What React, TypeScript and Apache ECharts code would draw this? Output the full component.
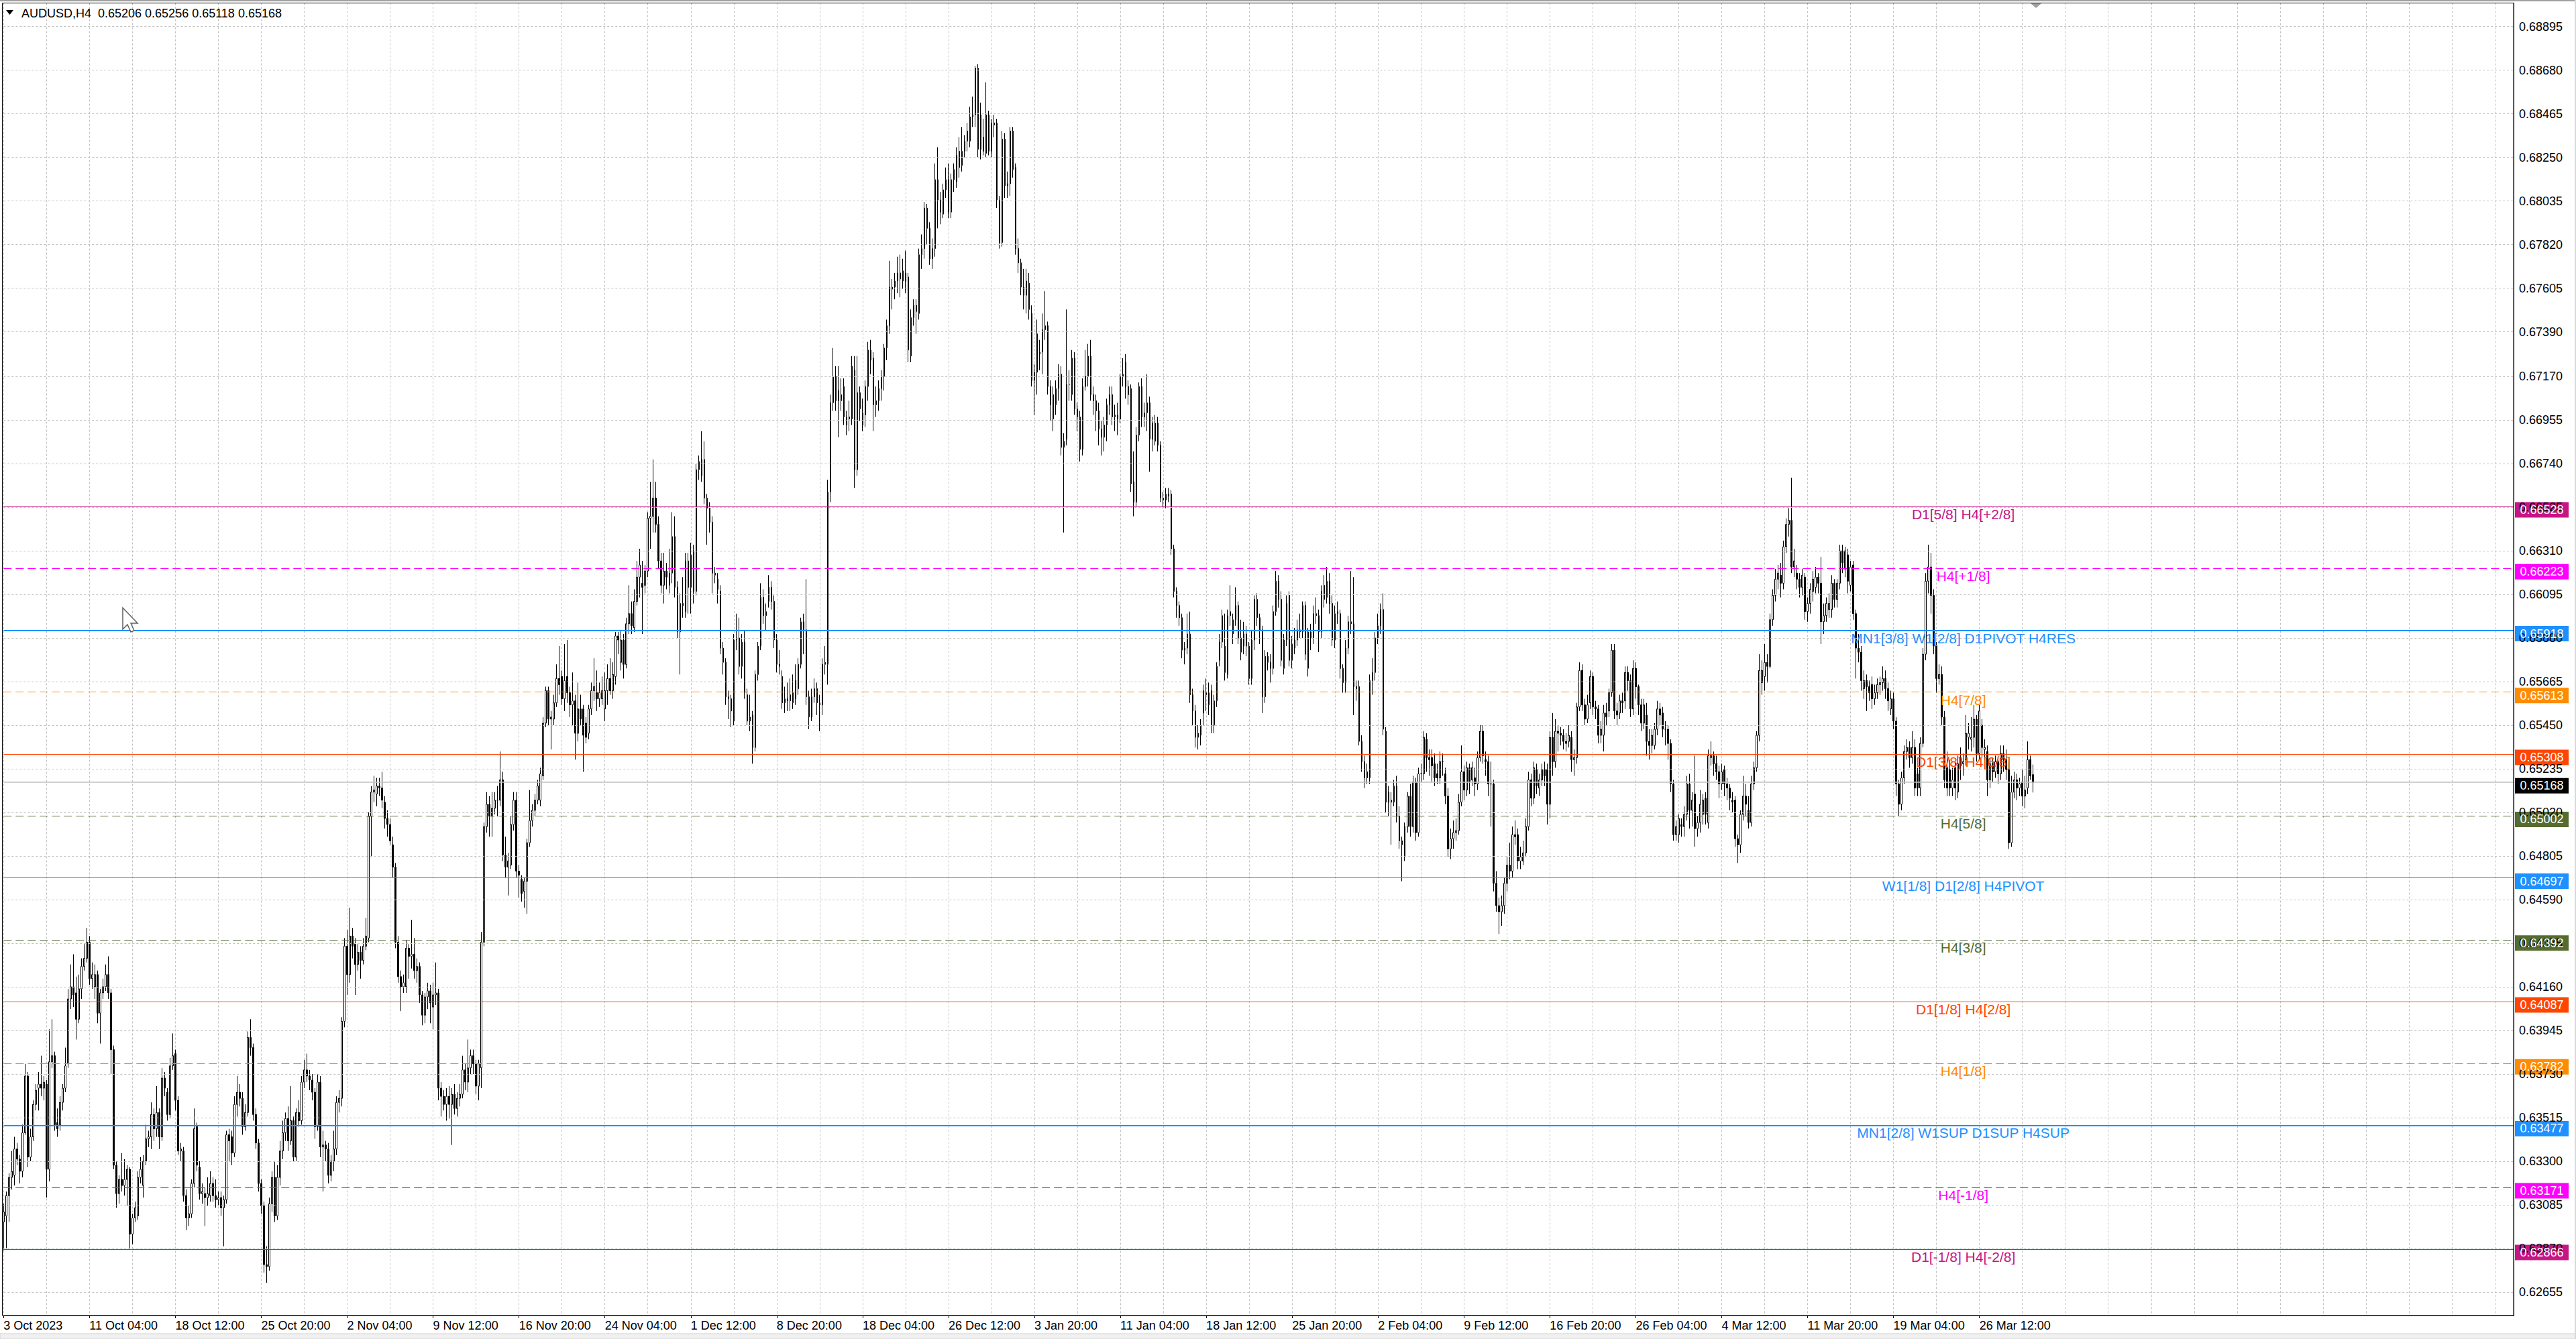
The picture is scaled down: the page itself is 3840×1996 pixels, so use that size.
import React, { useEffect, useRef } from "react";
import * as echarts from "echarts";

// ---------------- DATA ----------------
const SYMBOL_TITLE = "AUDUSD,H4";
const LAST_BAR_OHLC = ["0.65206", "0.65256", "0.65118", "0.65168"];

// Prices are written in pips above 0.6000 : [open, close, low, high]
const PIP_BASE = 0.6;
const PIP = 0.0001;

const candlesOctNov = [
[300,305,286,309],[303,313,287,315],[313,322,300,324],[322,325,316,335],[323,336,318,342],[336,331,328,339],[331,325,319,333],[325,344,322,348],[344,372,343,378],[372,332,327,374],
[332,342,330,346],[342,358,340,360],[358,365,355,368],[366,368,355,374],[368,366,362,382],[366,369,360,372],[368,326,312,370],[326,379,320,395],[379,382,376,400],[382,348,345,384],
[349,346,342,356],[348,359,345,362],[359,366,355,368],[366,377,364,386],[378,410,376,415],[410,416,405,427],[416,412,406,432],[413,400,390,421],[400,415,398,422],[415,426,410,430],
[426,430,424,437],[430,438,428,445],[438,420,417,441],[420,422,415,428],[416,422,410,427],[422,403,398,424],[403,413,388,415],[413,416,410,420],[416,422,414,427],[422,413,410,431],
[413,385,373,415],[385,328,326,387],[328,314,307,330],[314,321,309,323],[321,318,315,334],[318,321,313,331],[321,326,308,328],[326,294,287,327],[294,302,289,304],[302,307,300,310],
[303,322,301,325],[322,326,319,332],[318,330,312,333],[330,341,328,348],[341,342,337,345],[342,353,336,359],[353,346,340,356],[346,354,342,367],[354,342,336,356],[342,371,340,376],
[371,366,362,374],[364,353,350,366],[353,377,351,381],[377,382,375,393],[383,360,355,385],[360,335,333,362],[335,336,330,339],[335,313,310,337],[313,302,296,316],[302,304,298,308],
[304,319,302,321],[319,346,317,356],[347,328,325,349],[327,314,311,330],[314,315,309,319],[314,312,298,317],[312,314,308,322],[313,319,310,325],[319,313,310,322],[313,311,307,321],
[311,312,308,315],[312,307,303,315],[307,311,288,313],[311,343,309,345],[343,340,330,346],[342,334,328,345],[334,358,332,362],[358,364,352,372],[364,361,357,368],[361,347,343,364],
[347,354,345,358],[354,391,352,394],[391,386,382,400],[386,353,350,388],[353,339,336,356],[339,319,315,341],[319,308,304,321],[308,279,275,310],[279,278,270,288],[278,309,276,312],
[309,322,305,325],[322,303,300,330],[303,322,301,328],[322,335,318,340],[335,344,331,350],[344,351,340,354],[351,340,335,357],[340,350,338,367],[350,332,330,352],[332,354,330,356],
[354,350,347,360],[350,369,348,372],[369,375,366,380],[375,372,369,383],[372,370,365,375],[370,364,360,373],[364,347,341,366],[347,369,345,373],[369,337,332,372],[337,338,315,345],
[338,336,330,340],[336,323,319,339],[323,330,320,333],[330,336,325,345],[336,359,333,362],[359,361,354,365],[361,399,357,401],[399,436,396,440],[436,422,412,444],[422,441,418,455],
[441,436,430,445],[437,427,412,440],[427,433,424,437],[433,429,420,436],[429,436,427,440],[436,441,434,450],[440,500,438,502],[500,512,480,515],[512,513,507,520],[511,515,505,519],
[515,514,510,519],[514,508,504,522],[507,499,494,510],[499,496,490,503],[496,488,486,499],[486,475,470,490],[475,438,435,477],[438,421,418,441],[421,416,404,424],[416,418,413,422],
[416,435,413,439],[435,431,420,437],[431,432,425,449],[432,424,420,440],[424,426,418,430],[426,412,408,428],[412,402,397,414],[402,411,398,413],[411,414,405,418],[414,408,398,417],
[406,412,395,418],[412,413,407,428],[413,366,360,415],[366,362,352,369],[362,358,355,365],[358,362,350,366],[362,358,351,367],[358,363,338,366],[363,356,353,368],[356,361,352,364],
[361,363,357,368],[363,375,361,382],[375,369,365,378],[369,376,364,390],[376,382,373,385],[382,378,373,385],[378,367,363,380],[367,378,360,380],[376,438,366,443],[438,495,436,497],
[495,506,492,512],[506,500,490,510],[500,504,490,512],[504,508,501,512],[508,508,500,515],[508,518,505,532],[518,481,478,522],[481,475,470,490],[475,478,461,482]
];

const candlesNovDec = [
[476,496,474,500],[496,508,493,512],[508,473,470,512],[473,471,460,476],[469,462,458,471],[463,468,455,470],[468,487,452,489],[487,498,485,513],[498,503,495,506],[503,508,500,511],
[508,515,506,518],[508,521,505,524],[520,546,518,549],[546,562,544,564],[562,548,545,564],[548,549,533,552],[548,556,545,560],[556,568,554,575],[568,565,560,584],[569,558,555,572],
[558,567,552,585],[569,561,556,587],[561,555,549,564],[555,557,545,571],[557,541,528,560],[541,553,537,566],[553,548,545,560],[553,540,522,555],[546,539,536,549],[541,553,538,555],
[553,562,550,566],[562,564,557,578],[561,558,552,572],[558,561,554,566],[558,562,555,569],[553,562,547,571],[562,568,555,575],[568,562,560,578],[562,570,558,576],[569,589,565,591],
[589,587,580,591],[576,587,572,592],[587,575,568,590],[575,595,573,598],[595,600,590,614],[600,594,590,606],[593,606,591,612],[606,618,604,626],[618,624,608,632],[615,613,590,626],
[614,621,610,624],[621,647,618,650],[647,648,632,665],[648,657,640,676],[657,644,640,665],[644,626,622,648],[626,614,610,630],[614,621,605,630],[621,618,612,625],[614,620,610,632],
[620,638,615,650],[638,613,608,648],[613,591,588,616],[591,605,570,610],[605,604,598,618],[601,626,598,630],[626,613,600,630],[613,629,600,635],[631,611,605,634],[611,671,609,674],
[671,675,666,678],[668,676,665,690],[676,657,654,685],[657,652,634,659],[652,645,640,655],[645,620,610,648],[620,619,615,623],[617,612,605,620],[611,583,580,614],[583,576,570,586],
[576,559,555,578],[559,558,548,562],[558,552,544,560],[547,587,545,590],[587,588,582,600],[588,574,570,598],[574,586,568,590],[586,561,558,592],[560,547,545,563],[547,549,542,560],
[550,534,526,552],[534,570,532,572],[570,584,567,586],[584,608,582,615],[608,599,595,612],[599,601,592,605],[606,613,603,619],[613,606,602,616],[606,587,583,609],[587,575,571,590],
[575,574,570,582],[569,556,553,572],[556,558,551,564],[558,557,552,566],[557,560,552,568],[556,561,553,570],[558,567,555,575],[563,575,560,578],[575,596,573,598],[596,592,580,600],
[592,559,555,617],[559,549,543,562],[549,559,547,563],[559,563,556,568],[563,556,550,566],[556,555,542,560],[555,575,550,578],[575,576,570,584],[575,660,565,666],[660,704,655,708]
];

const candlesDecJan = [
[704,717,700,731],[717,705,700,722],[710,705,687,722],[705,708,700,716],[712,697,693,716],[693,697,688,700],[697,696,690,705],[696,722,693,727],[720,671,662,727],[671,709,668,727],
[709,701,695,712],[693,699,690,706],[698,712,692,715],[712,730,705,734],[725,730,718,735],[726,703,690,729],[703,705,697,712],[705,711,700,715],[711,717,705,720],[717,731,710,733],
[731,742,725,745],[742,761,738,774],[761,760,750,765],[761,764,755,768],[764,768,758,776],[765,768,756,777],[769,764,760,775],[768,764,758,779],[766,730,724,768],[727,746,724,750],
[746,752,742,755],[752,749,738,755],[748,777,745,780],[777,780,770,787],[780,800,775,803],[800,790,782,802],[790,775,772,793],[775,780,770,785],[780,814,776,822],[814,804,790,830],
[804,798,792,808],[797,809,795,812],[809,814,805,820],[814,798,795,822],[798,814,795,817],[814,819,808,822],[813,826,810,830],[820,828,815,835],[821,828,818,840],[828,833,825,836],
[833,838,828,842],[833,845,830,850],[845,846,840,855],[846,869,840,870],[869,829,825,871],[846,829,824,852],[828,835,826,844],[846,827,825,862],[846,828,826,848],[828,842,825,844],
[842,841,835,846],[842,804,800,844],[804,783,780,806],[783,834,781,838],[834,811,805,837],[811,812,805,818],[812,838,806,840],[838,819,815,840],[820,780,777,822],[780,773,768,785],
[773,761,757,775],[761,757,750,770],[757,764,748,770],[763,750,745,768],[748,715,712,752],[715,719,698,723],[719,738,708,745],[728,729,720,735],[729,740,718,748],[740,742,735,759],
[742,712,708,744],[712,703,695,715],[708,696,690,712],[703,711,698,715],[711,718,705,723],[718,682,678,722],[682,685,640,689],[686,713,683,750],[713,713,705,720],[708,726,705,730],
[726,701,698,729],[701,697,690,704],[697,681,675,700],[681,712,678,716],[712,717,710,730],[717,727,712,733],[727,708,705,735],[708,705,698,712],[705,700,690,708],[700,691,683,704],
[691,687,678,695],[687,693,680,697],[693,703,685,706],[703,708,698,712],[708,697,693,712],[697,698,690,703],[698,696,688,704],[696,717,694,718],[717,718,712,726],[724,712,706,728],
[712,708,703,715],[711,664,660,713],[665,655,648,680],[655,688,653,692],[688,712,685,714],[712,697,692,716],[697,699,692,704],[699,704,690,718],[704,686,670,707],[686,694,680,697],
[685,694,683,698],[694,683,680,697],[683,657,655,685],[657,656,652,660],[656,659,652,662],[659,658,655,662],[659,632,629,661],[632,611,608,634],[611,604,598,613],[604,598,594,606],
[598,582,578,600],[582,583,575,586],[583,590,580,600],[590,560,556,601],[560,552,545,563],[552,539,534,555],[539,541,533,545],[540,545,535,548],[551,562,545,565],[560,561,552,568],
[555,561,550,566],[562,545,541,565],[545,557,541,560],[557,574,554,576],[577,586,574,590],[586,599,583,602]
];

const candlesFeb = [
[584,571,567,600],[570,599,568,602],[599,601,594,614],[590,597,585,600],[597,604,594,613],[604,588,585,606],[588,581,577,597],[584,590,580,596],
[590,584,579,594],[584,568,565,586],[568,587,565,592],[587,607,582,609],[607,598,594,610],[598,592,585,600],[592,559,551,594],[559,579,556,582],[579,576,572,581],[573,576,566,580],
[573,601,570,604],[601,616,599,621],[616,607,603,619],[607,577,574,611],[573,587,570,590],[587,605,584,609],[609,577,574,611],[577,585,573,589],[583,587,580,593],
[587,592,584,597],[592,591,588,600],[591,604,588,606],[604,580,577,606],[573,591,569,593],[591,588,582,595],[588,600,585,604],[600,599,595,608],[599,591,581,602],
[591,611,588,614],[607,614,603,619],[608,616,605,623],[616,605,600,620],[605,587,584,609],[587,600,583,604],[600,601,595,606],[600,573,568,602],[573,566,561,575],[566,583,561,587],
[583,596,580,599],[596,595,590,621],[595,564,550,618],[564,563,557,567],[564,537,535,567],[537,527,522,540],[527,519,514,530],[519,522,516,526],[519,567,516,570],[567,571,560,578],
[571,588,567,591],[588,594,585,600],[594,602,590,605],[602,543,540,610],[542,507,502,544],[512,507,500,515],[507,508,486,512],[507,515,505,518],[515,500,497,520],[500,488,484,505],
[488,486,468,490],[480,495,478,497],[495,510,492,512],[510,495,490,516],[495,517,492,520],[517,492,488,519],[492,521,490,524],[521,521,517,526],[521,539,518,542],[538,529,522,541],
[529,528,520,533],[529,525,517,533],[526,519,515,531],[521,519,516,526],[519,527,516,532],[527,527,520,531],[521,510,506,524],[510,484,480,514],[484,489,479,494],[489,492,484,498],
[492,493,488,499],[493,507,491,511],[507,522,505,535],[522,513,508,525],[513,524,510,527],[524,517,511,526],[518,524,515,527],[519,516,510,524],[516,529,513,532],[529,542,527,545],
[542,530,526,545],[528,527,520,532],[527,516,510,530],[516,516,495,527],[516,467,463,518],[467,456,453,473],[456,453,442,460],[453,456,446,461],[456,467,452,470],[467,476,463,480],
[476,473,469,487],[473,491,470,495],[491,490,486,498],[491,478,474,494],[478,480,474,485],[478,482,476,488],[482,495,480,499],[495,518,493,522],[518,509,505,521],[509,524,506,527],[523,515,511,526],
[514,518,510,521],[518,523,515,526],[523,520,515,527],[523,506,496,526],[506,539,499,542],[539,527,520,551],[527,542,524,548],[542,541,532,545],[541,540,535,544],[540,537,533,543],[537,536,532,541],[537,540,534,545],
[539,528,522,542],[528,529,520,533],[529,554,526,556],[554,572,552,576],[572,555,552,575],[555,548,545,558],[548,555,546,560],[556,569,553,572],[569,554,550,571],[554,553,548,557],
[553,540,536,555],[540,543,536,547],[540,551,532,555],[551,549,545,556],[552,561,549,563],[561,582,559,585],[582,552,548,585],[552,550,545,556],[551,557,548,560],[557,556,551,561],[557,571,553,574],[571,567,562,574],
[567,553,549,570],[553,573,550,577],[573,564,558,576]
];

const candlesMar = [
[564,555,550,565],[555,546,542,558],[546,555,543,558],[550,537,530,556],[537,535,528,543],[535,540,531,543],[535,543,533,546],[543,553,540,557],[553,550,545,556],[551,543,539,554],
[543,543,535,547],[543,536,528,545],[536,516,512,538],[516,491,488,518],[491,495,488,498],[491,499,487,501],[496,495,490,499],[495,501,490,505],[501,516,498,520],[516,503,494,521],
[503,508,495,512],[511,494,485,530],[494,497,490,500],[497,506,492,513],[501,508,496,511],[509,501,496,512],[497,530,494,533],[529,530,525,537],[530,526,520,532],[526,522,518,530],
[522,516,509,525],[516,522,513,526],[523,516,510,525],[516,514,508,519],[514,509,503,516],[508,507,502,512],[508,489,485,510],[489,486,477,491],[486,501,482,503],[501,510,498,520],
[510,506,500,516],[503,497,494,510],[497,516,495,520],[516,524,513,527],[524,540,522,542],[540,572,537,580],[566,572,560,577],[569,576,562,585],[576,574,566,580],[574,597,573,600],
[597,609,594,612],[609,617,606,622],[617,620,612,624],[619,615,608,625],[615,633,612,636],[633,644,630,647],[644,646,638,652],[646,623,620,667],[623,626,618,632],[620,617,612,624],
[617,613,608,620],[613,619,609,622],[618,601,597,620],[601,605,596,608],[605,612,600,615],[611,617,606,621],[613,618,610,623],[618,615,610,620],[615,596,585,628],[596,599,590,605],
[599,605,596,608],[602,605,598,610],[602,615,598,619],[615,607,603,617],[607,615,603,617],[615,631,612,634],[631,625,620,634],[622,631,618,633],[629,616,610,632],[614,623,611,626],
[624,600,597,626],[600,583,568,602],[583,581,576,590],[581,567,562,584],[563,567,558,572],[567,564,552,570],[564,561,557,567],[565,558,553,569],[558,561,555,565],[561,565,558,568],
[565,566,560,569],[566,568,562,574],[568,563,558,572],[563,557,552,566],[553,558,550,562],[558,547,543,561],[547,516,510,549],[516,506,500,518],[506,519,503,522],[519,532,516,535],
[532,534,528,538],[534,529,524,537],[529,534,526,542],[534,514,510,538],[521,514,510,524],[514,536,510,539],[536,580,534,583],[580,616,577,620],[616,623,610,634],[623,609,600,630],
[609,584,580,612],[584,568,561,586],[568,570,565,575],[570,549,545,574],[549,518,514,552],[524,514,510,532],[523,514,510,528],[514,518,510,524],[524,514,508,527],[512,526,509,530],
[529,525,518,534],[526,527,520,531],[528,541,525,550],[539,541,533,546],[538,539,532,549],[539,548,534,555],[548,531,527,550],[531,552,528,555],[545,534,529,548],[533,534,528,538],
[532,518,510,535],[518,526,514,529],[526,522,517,529],[522,527,519,530],[527,521,516,530],[521,531,518,535],[531,528,522,535],[528,523,518,533],
[523,487,484,527],[487,512,485,520],[512,518,509,522],[518,514,508,521],[514,516,510,519],[517,510,505,523],[510,513,504,520],[514,528,511,537],[528,520,518,530],[520.6,516.8,511.8,525.6]
];

const xLabelTexts = [
  "3 Oct 2023", "11 Oct 04:00", "18 Oct 12:00", "25 Oct 20:00", "2 Nov 04:00", "9 Nov 12:00",
  "16 Nov 20:00", "24 Nov 04:00", "1 Dec 12:00", "8 Dec 20:00", "18 Dec 04:00", "26 Dec 12:00",
  "3 Jan 20:00", "11 Jan 04:00", "18 Jan 12:00", "25 Jan 20:00", "2 Feb 04:00", "9 Feb 12:00",
  "16 Feb 20:00", "26 Feb 04:00", "4 Mar 12:00", "11 Mar 20:00", "19 Mar 04:00", "26 Mar 12:00",
];
const xLabelBars = [
  0, 32, 64, 96, 128, 160, 192, 224, 256, 288, 320, 352,
  384, 416, 448, 480, 512, 544, 576, 608, 640, 672, 704, 736,
];

const yTickValues = [
  0.68895, 0.6868, 0.68465, 0.6825, 0.68035, 0.6782, 0.67605, 0.6739, 0.6717, 0.66955,
  0.6674, 0.66525, 0.6631, 0.66095, 0.6588, 0.65665, 0.6545, 0.65235, 0.6502, 0.64805,
  0.6459, 0.64375, 0.6416, 0.63945, 0.6373, 0.63515, 0.633, 0.63085, 0.6287, 0.62655,
];

const levelValues = [
  0.66528, 0.66223, 0.65918, 0.65613, 0.65308, 0.65002, 0.64697,
  0.64392, 0.64087, 0.63782, 0.63477, 0.63171, 0.62866,
];
const levelNames = [
  "D1[5/8] H4[+2/8]", "H4[+1/8]", "MN1[3/8] W1[2/8] D1PIVOT H4RES", "H4[7/8]",
  "D1[3/8] H4[6/8]", "H4[5/8]", "W1[1/8] D1[2/8] H4PIVOT", "H4[3/8]", "D1[1/8] H4[2/8]",
  "H4[1/8]", "MN1[2/8] W1SUP D1SUP H4SUP", "H4[-1/8]", "D1[-1/8] H4[-2/8]",
];
const bidPrice = 0.65168;

// ---------------- STYLE / LAYOUT ----------------
const levelStyles = [
  { color: "#C71585", dash: "solid", width: 1 },
  { color: "#FF00FF", dash: [12, 6], width: 1 },
  { color: "#1E90FF", dash: "solid", width: 2 },
  { color: "#FF8C00", dash: [12, 6], width: 1 },
  { color: "#FF4500", dash: "solid", width: 1 },
  { color: "#556B2F", dash: [12, 6], width: 1 },
  { color: "#1E90FF", dash: "solid", width: 1 },
  { color: "#556B2F", dash: [12, 6], width: 1 },
  { color: "#FF4500", dash: "solid", width: 1 },
  { color: "#FF8C00", dash: [12, 6], width: 1 },
  { color: "#1E90FF", dash: "solid", width: 2 },
  { color: "#FF00FF", dash: [12, 6], width: 1 },
  { color: "#C71585", dash: "solid", width: 1 },
];

const W = 3840;
const H = 1996;
const GRID_LEFT = 5.3;
const GRID_RIGHT_X = 3747;
const GRID_TOP = 4.5;
const GRID_BOTTOM_Y = 1961;
const SLOT_COUNT = 936; // bars that fit the visible width
const Y_MIN = 0.625388;
const Y_MAX = 0.690111;
const LEVEL_TEXT_BAR = 730;
const FONT = "'Liberation Sans', Arial, sans-serif";
const GRID_COLOR = "#C0C0C0";

export default function App() {
  const ref = useRef<HTMLDivElement>(null);

  useEffect(() => {
    if (!ref.current) return;
    const chart = echarts.init(ref.current, undefined, { renderer: "svg", width: W, height: H });

    const rows = [...candlesOctNov, ...candlesNovDec, ...candlesDecJan, ...candlesFeb, ...candlesMar];
    const toPrice = (v: number) => +(PIP_BASE + v * PIP).toFixed(5);
    const candleData = rows.map((r) => {
      const o = toPrice(r[0]);
      const c = toPrice(r[1]);
      const l = Math.min(toPrice(r[2]), o, c);
      const h = Math.max(toPrice(r[3]), o, c);
      return [o, c, l, h];
    });

    const labelMap = new Map<number, string>();
    xLabelBars.forEach((b, i) => labelMap.set(b, xLabelTexts[i]));
    const slots = Array.from({ length: SLOT_COUNT }, (_, i) => labelMap.get(i) ?? "#" + i);
    const isLabel = (i: number) => labelMap.has(i);

    const option: any = {
      animation: false,
      backgroundColor: "#FFFFFF",
      grid: {
        left: GRID_LEFT,
        right: W - GRID_RIGHT_X,
        top: GRID_TOP,
        bottom: H - GRID_BOTTOM_Y,
        containLabel: false,
      },
      xAxis: {
        type: "category",
        data: slots,
        boundaryGap: false,
        axisLine: { show: true, lineStyle: { color: "#000", width: 1 } },
        axisTick: { show: true, interval: (i: number) => isLabel(i), length: 4, lineStyle: { color: "#000" } },
        axisLabel: {
          interval: (i: number) => isLabel(i),
          formatter: (v: string) => (v.startsWith("#") ? "" : v),
          align: "left",
          margin: 6,
          fontSize: 18,
          fontFamily: FONT,
          color: "#000",
        },
        splitLine: {
          show: true,
          interval: (i: number) => i % 16 === 0,
          lineStyle: { color: GRID_COLOR, type: [3, 3], width: 1 },
        },
      },
      yAxis: {
        type: "value",
        position: "right",
        min: Y_MIN,
        max: Y_MAX,
        axisLine: { show: true, lineStyle: { color: "#000", width: 1 } },
        axisTick: { show: false },
        axisLabel: { show: false },
        splitLine: { show: false },
      },
      series: [
        {
          name: "grid",
          type: "line",
          data: [],
          silent: true,
          z: 1,
          markLine: {
            silent: true,
            symbol: ["none", "none"],
            animation: false,
            precision: 5,
            lineStyle: { color: GRID_COLOR, type: [3, 3], width: 1 },
            label: {
              show: true,
              position: "end",
              distance: 8,
              formatter: (p: any) => Number(p.value).toFixed(5),
              color: "#000",
              fontSize: 18,
              fontFamily: FONT,
            },
            emphasis: { disabled: true },
            data: yTickValues.map((v) => ({ yAxis: v })),
          },
        },
        {
          name: "levels",
          type: "line",
          data: [],
          silent: true,
          z: 2,
          markLine: {
            silent: true,
            symbol: ["none", "none"],
            animation: false,
            precision: 5,
            label: { show: false },
            emphasis: { disabled: true },
            data: [
              ...levelValues.map((v, i) => ({
                yAxis: v,
                lineStyle: { color: levelStyles[i].color, type: levelStyles[i].dash, width: levelStyles[i].width },
              })),
              { yAxis: bidPrice, lineStyle: { color: "#C0C0C0", type: "solid", width: 1.5 } },
            ],
          },
        },
        {
          name: "AUDUSD",
          type: "candlestick",
          data: candleData,
          large: false,
          progressive: 0,
          barWidth: 2,
          z: 3,
          itemStyle: {
            color: "#FFFFFF",
            color0: "#000000",
            borderColor: "#000000",
            borderColor0: "#000000",
            borderWidth: 1,
          },
        },
        {
          name: "levelText",
          type: "scatter",
          data: [],
          silent: true,
          z: 5,
          markPoint: {
            silent: true,
            animation: false,
            symbol: "circle",
            symbolSize: 0,
            label: { show: true, position: "bottom", distance: 1, fontSize: 21, fontFamily: FONT },
            data: levelValues.map((v, i) => ({
              coord: [LEVEL_TEXT_BAR, v],
              value: levelNames[i],
              label: { formatter: levelNames[i], color: levelStyles[i].color },
            })),
          },
        },
        {
          name: "levelBoxes",
          type: "scatter",
          data: [],
          silent: true,
          z: 6,
          markPoint: {
            silent: true,
            animation: false,
            symbol: "rect",
            symbolSize: [80, 23],
            symbolOffset: [42, 5],
            label: { show: true, position: "inside", color: "#FFFFFF", fontSize: 18, fontFamily: FONT },
            data: [
              ...levelValues.map((v, i) => ({
                coord: [SLOT_COUNT - 1, v],
                value: v,
                itemStyle: { color: levelStyles[i].color },
                label: { formatter: v.toFixed(5) },
              })),
              {
                coord: [SLOT_COUNT - 1, bidPrice],
                value: bidPrice,
                itemStyle: { color: "#000000" },
                label: { formatter: bidPrice.toFixed(5) },
              },
            ],
          },
        },
      ],
      graphic: [
        { type: "rect", z: 0, silent: true, shape: { x: 0, y: 0, width: W, height: 2 }, style: { fill: "#A0A0A0" } },
        { type: "rect", z: 0, silent: true, shape: { x: 0, y: 1988, width: W, height: 8 }, style: { fill: "#F0F0F0", stroke: "#D0D0D0", lineWidth: 1 } },
        { type: "rect", z: 0, silent: true, shape: { x: W - 2, y: 0, width: 2, height: H }, style: { fill: "#D8D8D8" } },
        {
          type: "rect",
          z: 50,
          silent: true,
          shape: { x: 3.5, y: GRID_TOP, width: GRID_RIGHT_X - 3.5, height: GRID_BOTTOM_Y - GRID_TOP },
          style: { fill: "none", stroke: "#000", lineWidth: 1 },
        },
        {
          type: "polygon",
          z: 50,
          silent: true,
          shape: { points: [[9, 15], [20, 15], [14.5, 22]] },
          style: { fill: "#000" },
        },
        {
          type: "text",
          z: 50,
          silent: true,
          x: 32,
          y: 20,
          style: {
            text: SYMBOL_TITLE + "  " + LAST_BAR_OHLC.join(" "),
            fontSize: 18,
            fontFamily: FONT,
            fill: "#000",
            verticalAlign: "middle",
            align: "left",
          },
        },
        {
          type: "polygon",
          z: 50,
          silent: true,
          shape: { points: [[3027, 5], [3043, 5], [3035, 12]] },
          style: { fill: "#A0A0A0" },
        },
        {
          type: "polygon",
          z: 60,
          silent: true,
          shape: {
            points: [[183, 906], [183, 938], [190, 931], [195, 942], [200, 940], [195, 929], [205, 929]],
          },
          style: { fill: "#FFFFFF", stroke: "#606060", lineWidth: 1.5 },
        },
      ],
    };

    chart.setOption(option);
    return () => chart.dispose();
  }, []);

  return (
    <div
      ref={ref}
      style={{ position: "fixed", left: 0, top: 0, width: W, height: H, background: "#FFFFFF" }}
    />
  );
}
